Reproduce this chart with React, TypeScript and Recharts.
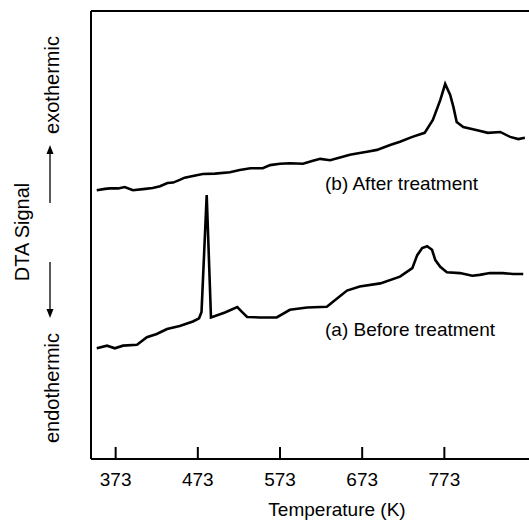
import { Line, LineChart, ReferenceLine, XAxis, YAxis } from "recharts";

// temperature (K) and DTA signal (arbitrary units, 0-100)
const afterTemps = [
  350, 360, 366, 376, 384, 394, 409, 418, 427, 436, 443, 451, 457, 470, 479, 494, 512, 524, 537, 552, 561, 573,
  585, 601, 612, 622, 634, 646, 658, 670, 679, 691, 707, 719, 734, 749, 759, 768, 774, 780, 784, 788, 796, 813,
  826, 841, 853, 863, 871,
];
const afterSignal = [
  60.0, 60.3, 60.4, 60.4, 60.7, 60.0, 60.3, 60.5, 60.9, 61.6, 61.7, 62.3, 62.8, 63.3, 63.6, 63.7, 64.0, 64.5, 64.9,
  64.9, 65.6, 65.9, 66.0, 65.9, 66.5, 67.0, 66.7, 67.3, 67.9, 68.3, 68.6, 69.0, 70.1, 70.8, 71.9, 72.8, 75.7, 80.1,
  83.7, 81.3, 78.6, 75.2, 74.1, 73.4, 72.8, 73.0, 71.9, 71.4, 71.7,
];

const beforeTemps = [
  350, 362.5, 372, 382, 399, 411, 423, 435.5, 451, 467, 474.5, 477.5, 483.8, 489, 506, 521, 527, 533, 549, 569,
  585, 606, 630, 637.5, 654.5, 670, 695, 719, 734, 740, 746, 752, 758, 762, 768, 776, 792, 807, 816, 828.5, 844,
  856.5, 869,
];
const beforeSignal = [
  24.7, 25.3, 24.7, 25.3, 25.5, 27.2, 27.9, 29.0, 29.7, 30.7, 31.4, 32.8, 58.9, 31.6, 32.7, 33.9, 32.8, 31.7, 31.6,
  31.6, 33.3, 33.8, 34.0, 35.1, 37.6, 38.5, 39.2, 40.7, 42.6, 45.5, 47.1, 47.5, 46.7, 44.4, 42.9, 41.7, 41.5, 40.9,
  41.1, 41.5, 41.5, 41.3, 41.3,
];

const tempTicks = [373, 473, 573, 673, 773];

const afterData = afterTemps.map((t, i) => ({ t, v: afterSignal[i] }));
const beforeData = beforeTemps.map((t, i) => ({ t, v: beforeSignal[i] }));

const FONT = "'Liberation Sans', Arial, Helvetica, sans-serif";

export default function App() {
  return (
    <div style={{ position: "absolute", left: 0, top: 0, width: 529, height: 521, background: "#fff" }}>
      <LineChart width={529} height={521} margin={{ top: 11, right: 0, bottom: 0, left: 91 }}>
        <XAxis
          dataKey="t"
          type="number"
          domain={[343, 876]}
          ticks={tempTicks}
          allowDataOverflow
          height={62}
          stroke="#000"
          strokeWidth={2}
          tickSize={-12}
          tickMargin={26}
          tick={{ fill: "#000", fontSize: 19, fontFamily: FONT }}
          label={{
            value: "Temperature (K)",
            position: "insideBottom",
            offset: 5,
            dx: 27,
            fill: "#000",
            fontSize: 19,
            fontFamily: FONT,
          }}
        />
        <YAxis type="number" domain={[0, 100]} hide />
        <ReferenceLine y={100} stroke="#000" strokeWidth={2} />
        <ReferenceLine x={343} stroke="#000" strokeWidth={2} />
        <Line
          data={afterData}
          dataKey="v"
          type="linear"
          stroke="#000"
          strokeWidth={2.6}
          dot={false}
          isAnimationActive={false}
        />
        <Line
          data={beforeData}
          dataKey="v"
          type="linear"
          stroke="#000"
          strokeWidth={2.6}
          dot={false}
          isAnimationActive={false}
        />
      </LineChart>
      <svg
        width={529}
        height={521}
        style={{ position: "absolute", left: 0, top: 0, pointerEvents: "none" }}
        fontFamily={FONT}
        fill="#000"
      >
        <text x={325} y={190} fontSize={19}>
          (b) After treatment
        </text>
        <text x={325} y={336} fontSize={19}>
          (a) Before treatment
        </text>
        <text x={22} y={232} fontSize={20} textAnchor="middle" dominantBaseline="central" transform="rotate(-90 22 232)">
          DTA Signal
        </text>
        <text x={52} y={85} fontSize={20} textAnchor="middle" dominantBaseline="central" transform="rotate(-90 52 85)">
          exothermic
        </text>
        <text
          x={52}
          y={388}
          fontSize={20}
          textAnchor="middle"
          dominantBaseline="central"
          transform="rotate(-90 52 388)"
        >
          endothermic
        </text>
        <line x1={50} y1={203} x2={50} y2={152} stroke="#000" strokeWidth={1.3} />
        <polygon points="50,145 46.5,154 53.5,154" />
        <line x1={50} y1={262} x2={50} y2={311} stroke="#000" strokeWidth={1.3} />
        <polygon points="50,318 46.5,309 53.5,309" />
      </svg>
    </div>
  );
}
